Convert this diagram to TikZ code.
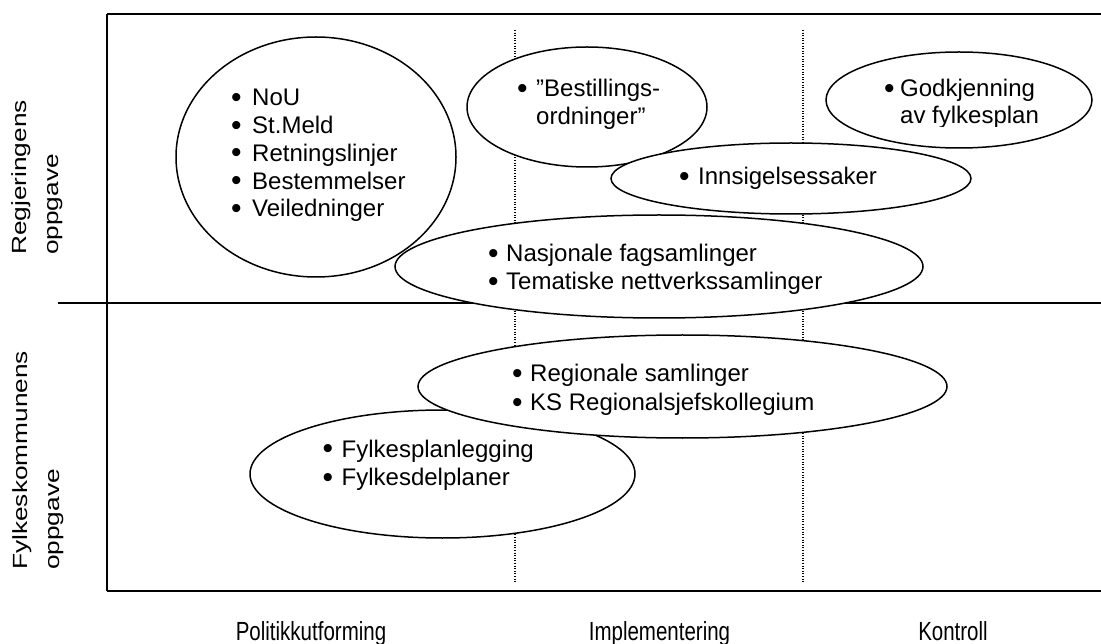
\documentclass[tikz,border=0pt]{standalone}
\usepackage{fontspec}
\setmainfont{Liberation Sans}
\usetikzlibrary{shapes.geometric}
\newcommand{\itm}[1][19pt]{\makebox[#1][l]{\raisebox{-1.6pt}{\scalebox{1.25}{•}}}}
\newcommand{\tall}[1]{\scalebox{1}[1.28]{#1}}
\begin{document}
\begin{tikzpicture}[x=1pt,y=-1pt,
  frame/.style={line width=2pt,black},
  divider/.style={line width=1.2pt,dash pattern=on 1pt off 1.6pt,black},
  bubble/.style={ellipse,draw,line width=1.5pt,fill=white,inner sep=0pt},
  entry/.style={anchor=base west,inner sep=0pt,font=\fontsize{24}{28}\selectfont},
  axislabel/.style={anchor=base,inner sep=0pt,font=\fontsize{20.5}{24}\selectfont},
  sidelabel/.style={rotate=90,anchor=base west,inner sep=0pt,font=\fontsize{20.5}{24}\selectfont}
]
\useasboundingbox (0,0) rectangle (1101,644);

% frame of the matrix
\coordinate (tl) at (107,14);
\coordinate (tr) at (1101,14);
\coordinate (bl) at (107,591);
\coordinate (br) at (1101,591);
\coordinate (ml) at (58,303);
\coordinate (mr) at (1101,303);
\draw[frame] (tl) -- (tr);
\draw[frame] (tl) -- (bl);
\draw[frame] (bl) -- (br);
\draw[frame] (ml) -- (mr);

% column separators
\coordinate (d1t) at (515,30);
\coordinate (d1b) at (515,582);
\coordinate (d2t) at (803,30);
\coordinate (d2b) at (803,582);
\draw[divider] (d1t) -- (d1b);
\draw[divider] (d2t) -- (d2b);

% bubbles
\node[bubble,minimum width=280pt,minimum height=240pt] (nou) at (316,157) {};
\node[bubble,minimum width=240pt,minimum height=120pt] (best) at (587,107) {};
\node[bubble,minimum width=266pt,minimum height=96pt] (godk) at (959,100) {};
\node[bubble,minimum width=360pt,minimum height=71pt] (inns) at (791,178.5) {};
\node[bubble,minimum width=528pt,minimum height=103pt] (nasj) at (659,266.5) {};
\node[bubble,minimum width=385pt,minimum height=128pt] (fylk) at (442.5,474) {};
\node[bubble,minimum width=529pt,minimum height=103pt] (regi) at (682.5,386.5) {};

% bubble contents
\node[entry] (t1) at (231,106) {\itm[21pt]NoU};
\node[entry] (t2) at (231,133.7) {\itm[21pt]St.Meld};
\node[entry] (t3) at (231,161.4) {\itm[21pt]Retningslinjer};
\node[entry] (t4) at (231,189.1) {\itm[21pt]Bestemmelser};
\node[entry] (t5) at (231,216.8) {\itm[21pt]Veiledninger};

\node[entry] (b1) at (517,96.7) {\itm ”Bestillings-};
\node[entry] (b2) at (536,124.4) {ordninger”};

\node[entry] (g1) at (884,96.7) {\itm[16pt]Godkjenning};
\begin{scope}
  \clip (880,100) rectangle (1095,126.5);
  \node[entry] (g2) at (900,123.5) {av fylkesplan};
\end{scope}

\node[entry] (i1) at (679,185) {\itm Innsigelsessaker};

\node[entry] (n1) at (488,261.7) {\itm[18pt]Nasjonale fagsamlinger};
\node[entry] (n2) at (488,290) {\itm[18pt]Tematiske nettverkssamlinger};

\node[entry] (r1) at (512,382) {\itm[18pt]Regionale samlinger};
\node[entry] (r2) at (512,410.5) {\itm[18pt]KS Regionalsjefskollegium};

\node[entry] (f1) at (322.5,457) {\itm Fylkesplanlegging};
\node[entry] (f2) at (322.5,485.5) {\itm Fylkesdelplaner};

% row labels
\node[sidelabel] (rg1) at (26.5,255) {\scalebox{1.28}[1]{Regjeringens}};
\node[sidelabel] (rg2) at (58.5,255) {\scalebox{1.28}[1]{oppgave}};
\node[sidelabel] (fk1) at (27.5,570) {\scalebox{1.28}[1]{Fylkeskommunens}};
\node[sidelabel] (fk2) at (59.5,570) {\scalebox{1.28}[1]{oppgave}};

% column labels
\node[axislabel] (c1) at (311,640) {\tall{Politikkutforming}};
\node[axislabel] (c2) at (659.5,640) {\tall{Implementering}};
\node[axislabel] (c3) at (953,640) {\tall{Kontroll}};
\end{tikzpicture}
\end{document}
